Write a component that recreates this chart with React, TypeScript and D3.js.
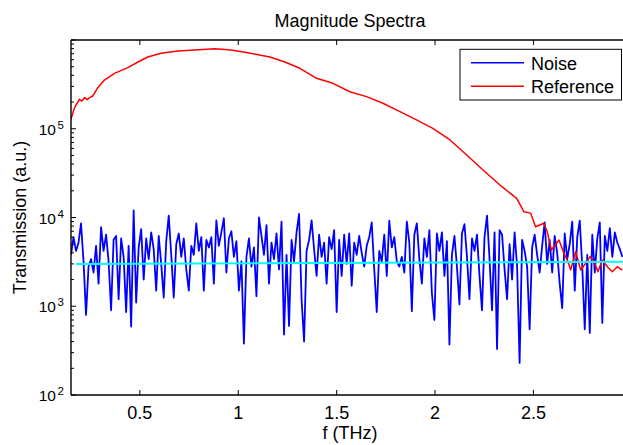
import * as d3 from "d3";

// frequency axis (THz) and log transmission axis
const xTicks = [0.5, 1, 1.5, 2, 2.5];
const yDecades = [1e2, 1e3, 1e4, 1e5, 1e6];

// noise spectrum, sampled evenly from noiseStart to noiseEnd
const noiseStart = 0.15;
const noiseEnd = 2.952;
const noiseValues = [
  3800, 6000, 4200, 5200, 8600, 3200, 800, 2800, 3400, 2400,
  4800, 1800, 7800, 4200, 6400, 3200, 900, 5600, 6200, 1200,
  5800, 3600, 860, 4800, 590, 12000, 1100, 4600, 7400, 2000,
  5800, 3400, 6800, 4400, 1500, 6200, 3000, 1250, 5400, 10500,
  3800, 1250, 5000, 6600, 3600, 5800, 2600, 1500, 4800, 3800,
  8600, 4200, 6000, 1500, 5600, 4600, 6000, 1800, 9300, 4800,
  6800, 9800, 2400, 5800, 7000, 3600, 5400, 1500, 3200, 380,
  3600, 5800, 2800, 4600, 1300, 10000, 6200, 3800, 8200, 1800,
  5200, 3400, 6600, 2600, 9000, 480, 3800, 600, 5600, 3200,
  6800, 11000, 1200, 400, 4200, 5600, 9300, 4400, 2200, 6400,
  3600, 5200, 1800, 6000, 4400, 7200, 860, 5600, 2200, 6400,
  3000, 6600, 1700, 5200, 3800, 6200, 4000, 2800, 4800, 6000,
  8800, 2600, 860, 4200, 3200, 6400, 2200, 9200, 4600, 6000,
  3200, 2800, 3600, 2400, 9000, 5200, 880, 6400, 8600, 3400,
  1800, 5800, 3600, 7200, 1400, 700, 6600, 4200, 6800, 2200,
  5400, 370, 3800, 6200, 2800, 1050, 6600, 8400, 3600, 1200,
  5800, 4200, 6400, 2200, 900, 6000, 10500, 3400, 900, 6800,
  330, 7200, 6400, 2600, 1200, 5000, 2000, 6800, 2800, 230,
  5600, 4200, 2800, 550, 4600, 6400, 3800, 2400, 4800, 8800,
  3000, 5600, 2400, 6200, 4000, 1800, 950, 6600, 3400, 5000,
  9000, 1500, 6000, 9200, 2800, 550, 3800, 500, 6400, 2400,
  5800, 8800, 650, 6200, 4200, 7600, 3600, 6800, 5200, 4400,
  3600,
];

// reference spectrum (f, value)
const refF = [
  0.15, 0.168, 0.193, 0.205, 0.219, 0.232, 0.244, 0.261, 0.286, 0.32,
  0.371, 0.439, 0.49, 0.54, 0.608, 0.693, 0.778, 0.88, 0.964, 1.049,
  1.161, 1.237, 1.313, 1.398, 1.481, 1.567, 1.652, 1.735, 1.822, 1.906,
  1.989, 2.076, 2.161, 2.244, 2.33, 2.415, 2.452, 2.486, 2.511, 2.553,
  2.57, 2.591, 2.63, 2.655, 2.676, 2.689, 2.715, 2.74, 2.766, 2.788,
  2.808, 2.828, 2.85, 2.876, 2.901, 2.926, 2.952,
];
const refValues = [
  128000, 173000, 215000, 205000, 224000, 212000, 224000, 234000, 290000, 354000,
  421000, 488000, 565000, 643000, 708000, 752000, 771000, 798000, 771000, 719000,
  643000, 565000, 480000, 370000, 325000, 261000, 230000, 194000, 156000, 126000,
  101000, 74700, 50600, 34300, 23200, 16400, 11600, 11200, 7870, 8610,
  6920, 4310, 5580, 3950, 3180, 2560, 4120, 2560, 3050, 3620,
  3180, 2450, 3320, 2790, 2450, 2790, 2560,
];

// fitted noise floor
const floorF = [0.175, 2.955];
const floorValues = [3000, 3170];

const legendItems = [
  { label: "Noise", color: "#0000ff" },
  { label: "Reference", color: "#ff0000" },
];

const W = 623;
const H = 445;
const left = 71;
const top = 40;
const bottom = 395;
const right = 631.8;
const font = "'Liberation Sans', Arial, Helvetica, sans-serif";

export default function App() {
  const x = d3.scaleLinear().domain([0.15, 3]).range([left, right]);
  const y = d3.scaleLog().domain([1e2, 1e6]).range([bottom, top]);

  const noiseF = d3.scaleLinear().domain([0, noiseValues.length - 1]).range([noiseStart, noiseEnd]);
  const line = d3
    .line<[number, number]>()
    .x((d) => x(d[0]))
    .y((d) => y(d[1]));

  const noisePath = line(noiseValues.map((v, i) => [noiseF(i), v]));
  const refPath = line(refF.map((f, i) => [f, refValues[i]]));
  const floorPath = line(floorF.map((f, i) => [f, floorValues[i]]));

  const minorTicks = y.ticks().filter((t) => !yDecades.includes(t));

  return (
    <svg
      width={W}
      height={H}
      style={{ position: "absolute", left: 0, top: 0, background: "#fff" }}
      fontFamily={font}
    >
      <defs>
        <clipPath id="plot">
          <rect x={left} y={top} width={right - left} height={bottom - top} />
        </clipPath>
      </defs>
      <rect x={0} y={0} width={W} height={H} fill="#fff" />

      <g clipPath="url(#plot)" fill="none" strokeLinejoin="round">
        <path d={noisePath!} stroke="#0000ff" strokeWidth={1.8} />
        <path d={refPath!} stroke="#ff0000" strokeWidth={1.5} />
        <path d={floorPath!} stroke="#00ffff" strokeWidth={2} />
      </g>

      {/* axes box */}
      <g stroke="#000" strokeWidth={1.4} fill="none">
        <line x1={left} x2={W} y1={top} y2={top} />
        <line x1={left} x2={W} y1={bottom} y2={bottom} />
        <line x1={left} x2={left} y1={top} y2={bottom} />
      </g>

      {/* x ticks */}
      <g stroke="#000" strokeWidth={1}>
        {xTicks.map((t) => (
          <g key={t}>
            <line x1={x(t)} x2={x(t)} y1={bottom} y2={bottom - 5} />
            <line x1={x(t)} x2={x(t)} y1={top} y2={top + 5} />
          </g>
        ))}
      </g>
      <g fontSize={18} textAnchor="middle" fill="#000">
        {xTicks.map((t) => (
          <text key={t} x={x(t)} y={418.5}>
            {String(t)}
          </text>
        ))}
      </g>

      {/* y ticks */}
      <g stroke="#000" strokeWidth={1}>
        {yDecades.map((t) => (
          <line key={t} x1={left} x2={left + 5} y1={y(t)} y2={y(t)} />
        ))}
        {minorTicks.map((t) => (
          <line key={t} x1={left} x2={left + 3} y1={y(t)} y2={y(t)} />
        ))}
      </g>
      <g fill="#000">
        {yDecades.slice(0, 4).map((t) => (
          <text key={t} x={56} y={y(t) + 6} fontSize={15.5} textAnchor="end">
            10
            <tspan x={57.5} y={y(t)} fontSize={11.5} textAnchor="start">
              {Math.round(Math.log10(t))}
            </tspan>
          </text>
        ))}
      </g>

      {/* labels */}
      <text x={350} y={26.7} fontSize={18} textAnchor="middle">
        Magnitude Spectra
      </text>
      <text x={350} y={439} fontSize={18} textAnchor="middle">
        f (THz)
      </text>
      <text
        transform={`translate(26,${(top + bottom) / 2}) rotate(-90)`}
        fontSize={18}
        textAnchor="middle"
      >
        Transmission (a.u.)
      </text>

      {/* legend */}
      <rect x={460} y={49.3} width={161.5} height={50.7} fill="#fff" stroke="#000" strokeWidth={1} />
      {legendItems.map((d, i) => (
        <g key={d.label}>
          <line x1={471} x2={524} y1={62.7 + i * 23.5} y2={62.7 + i * 23.5} stroke={d.color} strokeWidth={1.5} />
          <text x={531} y={69.5 + i * 23.5} fontSize={18} fill="#000">
            {d.label}
          </text>
        </g>
      ))}
    </svg>
  );
}
